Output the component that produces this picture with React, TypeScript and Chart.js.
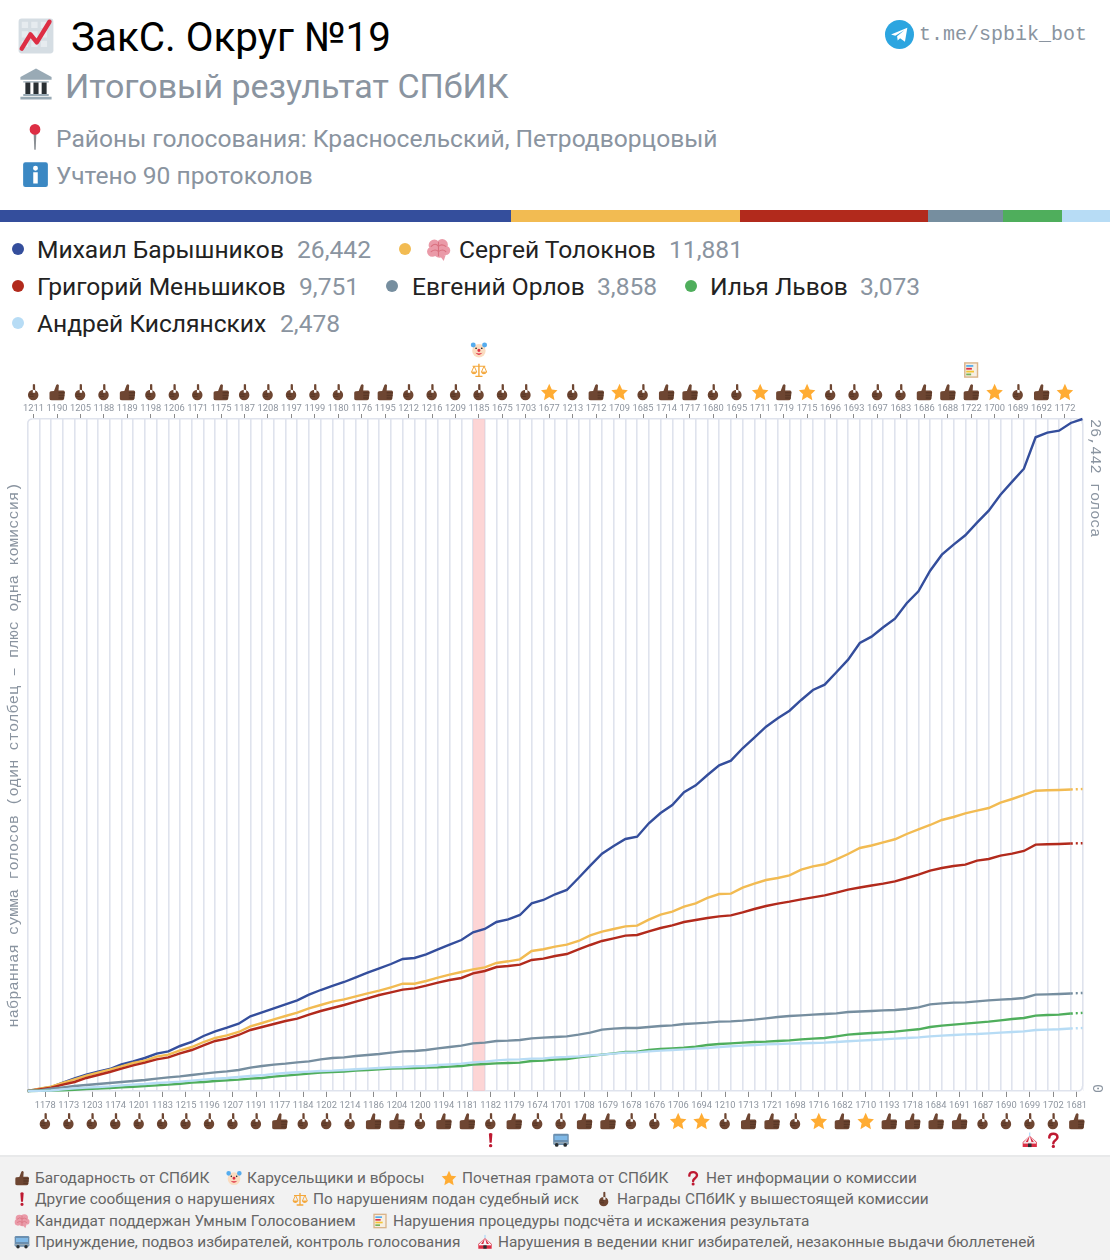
import React, { useEffect, useRef } from "react";
import { Chart, registerables } from "chart.js";

Chart.register(...registerables);

const topLabels = ["1211","1190","1205","1188","1189","1198","1206","1171","1175","1187","1208","1197","1199","1180","1176","1195","1212","1216","1209","1185","1675","1703","1677","1213","1712","1709","1685","1714","1717","1680","1695","1711","1719","1715","1696","1693","1697","1683","1686","1688","1722","1700","1689","1692","1172"];
const bottomLabels = ["1178","1173","1203","1174","1201","1183","1215","1196","1207","1191","1177","1184","1202","1214","1186","1204","1200","1194","1181","1182","1179","1674","1701","1708","1679","1678","1676","1706","1694","1210","1713","1721","1698","1716","1682","1710","1193","1718","1684","1691","1687","1690","1699","1702","1681"];
const topAwards = "p t p p t p p p t p p p p p t t p p p p p p s p t s p t t p p s t s p p p p t t t s p t s".split(" ");
const bottomAwards = "p p p p p p p p p p t p p p t t p t t p t p p t t p p s s p t t p s t s t t t t p p p p t".split(" ");
const topExtras: Record<string, string[]> = { "1185": ["scales", "clown"], "1722": ["abacus"] };
const bottomExtras: Record<string, string[]> = { "1182": ["exclaim"], "1701": ["bus"], "1699": ["tent"], "1702": ["question"] };
const flaggedCommission = "1185";

const baryshnikov = [0,79,157,327,500,641,759,866,1051,1169,1299,1468,1562,1771,1928,2164,2349,2491,2648,2939,3097,3254,3412,3569,3789,3974,4132,4289,4474,4655,4828,4997,5194,5234,5379,5576,5757,5942,6245,6375,6650,6756,6926,7386,7516,7740,7909,8382,8866,9338,9641,9916,10007,10534,10939,11254,11754,12029,12435,12816,12997,13485,13902,14335,14666,14965,15386,15779,15988,16476,16972,17629,17877,18247,18585,19191,19663,20474,21103,21497,21867,22363,22835,23464,23976,24487,25723,25904,25983,26286,26442];
const tolokonov = [0,92,170,315,460,603,722,840,971,1102,1194,1351,1430,1600,1731,1928,2086,2190,2322,2544,2676,2820,2951,3082,3254,3384,3515,3608,3726,3844,3948,4080,4223,4223,4329,4459,4578,4683,4787,4867,5037,5103,5181,5509,5576,5679,5757,5903,6125,6270,6375,6479,6507,6742,6938,7057,7254,7384,7595,7752,7765,8001,8157,8303,8382,8487,8710,8840,8921,9118,9326,9562,9660,9785,9905,10113,10297,10467,10664,10782,10927,11030,11136,11345,11490,11648,11817,11832,11844,11864,11881];
const menshikov = [0,65,130,249,354,512,630,748,879,1010,1115,1246,1325,1482,1613,1797,1968,2059,2204,2400,2518,2636,2755,2846,3003,3148,3266,3384,3515,3646,3778,3883,3988,4040,4145,4263,4368,4447,4630,4722,4879,4919,4971,5155,5207,5312,5391,5575,5745,5903,6008,6113,6139,6282,6414,6519,6650,6729,6808,6873,6912,7030,7162,7280,7372,7450,7542,7621,7700,7805,7923,8008,8086,8159,8251,8382,8513,8670,8775,8854,8906,9064,9129,9260,9339,9444,9693,9707,9719,9739,9751];
const orlov = [0,26,92,144,197,236,275,315,354,394,433,486,538,577,630,682,735,774,826,918,984,1036,1075,1128,1167,1246,1299,1325,1377,1417,1456,1508,1561,1574,1613,1679,1731,1784,1876,1902,1968,1981,2007,2072,2099,2125,2151,2217,2296,2414,2453,2479,2479,2518,2558,2584,2636,2662,2689,2728,2741,2768,2807,2859,2912,2951,2977,3004,3030,3056,3109,3128,3148,3174,3187,3227,3292,3410,3449,3476,3489,3528,3568,3594,3620,3660,3791,3804,3817,3838,3858];
const lvov = [0,10,13,26,52,79,92,118,144,170,197,223,249,288,328,354,394,420,446,486,512,564,603,643,682,722,748,761,800,826,853,879,892,905,918,931,958,984,1036,1062,1089,1102,1115,1181,1194,1233,1259,1325,1377,1430,1482,1535,1548,1613,1653,1679,1705,1745,1810,1849,1876,1902,1928,1941,1968,1994,2033,2059,2086,2151,2217,2251,2282,2308,2335,2387,2427,2518,2571,2610,2649,2689,2728,2780,2833,2873,2965,2991,3004,3048,3073];
const kislyanskikh = [0,5,20,66,105,131,157,184,223,249,275,315,341,367,407,446,486,512,551,590,617,669,708,735,761,787,800,826,853,879,905,931,944,971,984,1023,1049,1076,1128,1154,1207,1233,1246,1272,1285,1325,1338,1364,1404,1430,1469,1508,1521,1561,1587,1613,1639,1666,1692,1731,1758,1784,1810,1837,1850,1863,1876,1889,1902,1928,1955,1981,2007,2033,2059,2086,2112,2151,2177,2204,2230,2243,2269,2295,2322,2348,2400,2414,2427,2459,2478];

const candidates = [
  { name: "Михаил Барышников", total: 26442, color: "#344e9c", data: baryshnikov, dotted: false },
  { name: "Сергей Толокнов", total: 11881, color: "#f2bb52", data: tolokonov, dotted: true },
  { name: "Григорий Меньшиков", total: 9751, color: "#b22a1c", data: menshikov, dotted: true },
  { name: "Евгений Орлов", total: 3858, color: "#768e9f", data: orlov, dotted: true },
  { name: "Илья Львов", total: 3073, color: "#4fae5c", data: lvov, dotted: true },
  { name: "Андрей Кислянских", total: 2478, color: "#b7dcf5", data: kislyanskikh, dotted: true },
];
const drawOrder = [5, 4, 3, 2, 1, 0];

const fmt = (n: number) => n.toLocaleString("en-US");

type P = { d: string; fill?: string; stroke?: string; w?: number };
const circ = (x: number, y: number, r: number) => `M${x - r} ${y}a${r} ${r} 0 1 0 ${2 * r} 0a${r} ${r} 0 1 0 ${-2 * r} 0Z`;

const ICONS: Record<string, P[]> = {
  t: [
    { d: "M2 13Q2 11 4 11L8 10.5L11 2.5Q13 0.5 14.5 3L14 10H20.5Q22.5 10 22.5 12.5L21.5 21Q21 23 18.5 23H5Q2 23 2 21Z", fill: "#6e4632" },
    { d: "M14 12H22V14H14ZM14 15.5H21.8V17.5H14ZM14 19H21.2V21H14Z", fill: "#5a3827" },
  ],
  p: [
    { d: circ(11.5, 16, 7) + "M11 2Q12.5 0.5 14 2L14.2 13H11Z", fill: "#6e4632" },
    { d: "M6 14H12V15.5H6ZM6 17H12V18.5H6Z", fill: "#5a3827" },
  ],
  s: [{ d: "M12 1L15.4 8.5L23 9.5L17.4 14.9L19 23L12 18.8L5 23L6.6 14.9L1 9.5L8.6 8.5Z", fill: "#ffac33" }],
  clown: [
    { d: circ(12, 13, 9.5), fill: "#fbdcc0" },
    { d: circ(4, 5, 3.5) + circ(20, 5, 3.5), fill: "#55acee" },
    { d: circ(12, 12.5, 2.2), fill: "#dd2e44" },
    { d: "M7 16Q12 22 17 16Q12 18 7 16Z", fill: "#dd2e44" },
    { d: circ(8, 9.5, 1.2) + circ(16, 9.5, 1.2), fill: "#292f33" },
  ],
  scales: [
    { d: "M11 3H13V20H17V22H7V20H11ZM3 6H21V7.5H3Z", fill: "#f4a73a" },
    { d: "M5 7L1.5 15H8.5ZM19 7L15.5 15H22.5Z", stroke: "#f4a73a", w: 1.4 },
    { d: "M1 15H9Q8 18 5 18Q2 18 1 15ZM15 15H23Q22 18 19 18Q16 18 15 15Z", fill: "#f4a73a" },
  ],
  abacus: [
    { d: "M2 1H22V23H2Z", fill: "#d9b48a" },
    { d: "M4 3H20V21H4Z", fill: "#f6efe3" },
    { d: "M5 5H15V7.5H5Z", fill: "#55acee" },
    { d: "M5 9H13V11.5H5Z", fill: "#dd2e44" },
    { d: "M5 13H16V15.5H5Z", fill: "#f4c534" },
    { d: "M5 17H12V19.5H5Z", fill: "#78b159" },
  ],
  exclaim: [{ d: "M9.5 3Q12 1 14.5 3L13.5 16H10.5Z" + circ(12, 20, 2.4), fill: "#be1931" }],
  question: [
    { d: "M6.5 8.5C6.5 1.5 18 1.5 18 8C18 12.5 12.2 12 12.2 16.5", stroke: "#be1931", w: 3.6 },
    { d: circ(12.2, 21, 2.3), fill: "#be1931" },
  ],
  bus: [
    { d: "M1 5Q1 3 3 3H21Q23 3 23 5V17Q23 19 21 19H3Q1 19 1 17Z", fill: "#6b8faf" },
    { d: "M3 6H21V12H3Z", fill: "#7fb8e6" },
    { d: "M1 15H23V17H1Z", fill: "#99aab5" },
    { d: circ(6, 19, 2.6) + circ(18, 19, 2.6), fill: "#292f33" },
  ],
  tent: [
    { d: "M12 2V7", stroke: "#88c9f9", w: 1.2 },
    { d: "M12 6L22 15V22H2V15Z", fill: "#dd2e44" },
    { d: "M12 6L14.5 15H9.5ZM12 6L6 15H3.5ZM12 6L18 15H20.5Z", fill: "#f5f8fa" },
    { d: "M3 15H21V17H3Z", fill: "#f5f8fa" },
    { d: "M9.5 17H14.5V22H9.5Z", fill: "#292f33" },
  ],
  brain: [
    { d: circ(8, 8, 5.5) + circ(15.5, 7.5, 5.5) + circ(6, 14, 5) + circ(13, 14, 6) + circ(19, 13, 4.3), fill: "#ea9aa8" },
    { d: "M5 9Q9 5 12 9Q15 6 19 9M5 14Q9 11 12 14Q16 11 19 14M12 5V18", stroke: "#d9707f", w: 1.1 },
    { d: "M14 19L17 23L19 17Z", fill: "#ea9aa8" },
  ],
  chart: [
    { d: "M1 3Q1 1 3 1H21Q23 1 23 3V21Q23 23 21 23H3Q1 23 1 21Z", fill: "#d5dde3" },
    { d: "M3 3H7V7H3ZM9 3H13V7H9ZM15 3H19V7H15ZM3 9H7V13H3ZM9 9H13V13H9ZM15 9H19V13H15ZM3 15H7V19H3ZM9 15H13V19H9ZM15 15H19V19H15Z", fill: "#e6ebef" },
    { d: "M3 20L8.5 11L12.5 16L20.5 3", stroke: "#dd2e44", w: 2.8 },
  ],
  bank: [
    { d: "M12 1L23 7V9H1V7Z", fill: "#99aab5" },
    { d: "M3 10H21V11H3ZM3 19H21V20.5H3ZM1 21H23V23H1Z", fill: "#99aab5" },
    { d: "M4.5 11H8V19H4.5ZM10.2 11H13.8V19H10.2ZM16 11H19.5V19H16Z", fill: "#292f33" },
  ],
  pin: [
    { d: "M10.8 8H13.2L12.6 23H11.4Z", fill: "#8a8f94" },
    { d: circ(12, 5.5, 4.6), fill: "#dd2e44" },
  ],
  info: [
    { d: "M1 3Q1 1 3 1H21Q23 1 23 3V21Q23 23 21 23H3Q1 23 1 21Z", fill: "#3b88c3" },
    { d: "M10 10H14V20H10Z" + circ(12, 6.5, 2.2), fill: "#ffffff" },
  ],
  telegram: [
    { d: circ(12, 12, 12), fill: "#2ca5e0" },
    { d: "M5 12L18.5 6.5L16.5 18L12.5 15L10.5 17L10 13.5L16 8.5L8.5 13Z", fill: "#ffffff" },
  ],
};

function Icon({ kind, x, y, size }: { kind: string; x: number; y: number; size: number }) {
  return (
    <svg width={size} height={size} viewBox="0 0 24 24" style={{ position: "absolute", left: x - size / 2, top: y - size / 2 }}>
      {ICONS[kind].map((p, i) => (
        <path key={i} d={p.d} fill={p.fill || "none"} stroke={p.stroke} strokeWidth={p.w} strokeLinecap="round" strokeLinejoin="round" />
      ))}
    </svg>
  );
}

function paintIcon(ctx: CanvasRenderingContext2D, kind: string, x: number, y: number, size: number) {
  ctx.save();
  ctx.translate(x - size / 2, y - size / 2);
  ctx.scale(size / 24, size / 24);
  for (const p of ICONS[kind]) {
    const path = new Path2D(p.d);
    if (p.fill) {
      ctx.fillStyle = p.fill;
      ctx.fill(path);
    }
    if (p.stroke) {
      ctx.strokeStyle = p.stroke;
      ctx.lineWidth = p.w || 1;
      ctx.lineCap = "round";
      ctx.lineJoin = "round";
      ctx.stroke(path);
    }
  }
  ctx.restore();
}

const MONO = "'Liberation Mono', monospace";
const GREY = "#8a94a0";
const CANVAS_TOP = 340;

function T({ x, y, size, color, children, font, weight }: any) {
  return (
    <div style={{ position: "absolute", left: x, top: y, transform: "translateY(-50%)", fontSize: size, color, whiteSpace: "nowrap", fontFamily: font || "Roboto", fontWeight: weight || 400, lineHeight: 1 }}>
      {children}
    </div>
  );
}

const legendRows: [number, number, number, number][] = [
  [0, 18, 37, 250],
  [1, 405, 459, 250],
  [2, 18, 37, 287],
  [3, 392, 412, 287],
  [4, 691, 710, 287],
  [5, 18, 37, 324],
];
const valueX = [297, 669, 299, 597, 860, 280];

const footerItems: [string, number, string, number][] = [
  ["t", 22, "Багодарность от СПбИК", 1178],
  ["clown", 234, "Карусельщики и вбросы", 1178],
  ["s", 449, "Почетная грамота от СПбИК", 1178],
  ["question", 693, "Нет информации о комиссии", 1178],
  ["exclaim", 22, "Другие сообщения о нарушениях", 1199],
  ["scales", 300, "По нарушениям подан судебный иск", 1199],
  ["p", 604, "Награды СПбИК у вышестоящей комиссии", 1199],
  ["brain", 22, "Кандидат поддержан Умным Голосованием", 1221],
  ["abacus", 380, "Нарушения процедуры подсчёта и искажения результата", 1221],
  ["bus", 22, "Принуждение, подвоз избирателей, контроль голосования", 1242],
  ["tent", 485, "Нарушения в ведении книг избирателей, незаконные выдачи бюллетеней", 1242],
];

export default function App() {
  const ref = useRef<HTMLCanvasElement>(null);
  useEffect(() => {
    const tickFont = { family: "Roboto", size: 9.3 };
    const tickColor = "#8f96a0";
    const gridColor = "#dfe3ed";
    const bandPlugin = {
      id: "band",
      beforeDatasetsDraw(chart: any) {
        const { ctx, scales, chartArea } = chart;
        const idx = topLabels.indexOf(flaggedCommission) * 2;
        const a = scales.x.getPixelForValue(idx);
        const b = scales.x.getPixelForValue(idx + 1);
        ctx.save();
        ctx.fillStyle = "rgba(252,190,190,0.65)";
        ctx.fillRect(a, chartArea.top, b - a, chartArea.bottom - chartArea.top);
        // rounded corners of the plot frame
        const { left, right, top, bottom } = chartArea;
        const r = 5;
        ctx.strokeStyle = gridColor;
        ctx.lineWidth = 1.6;
        for (const [cx, cy, sx, sy] of [[left, top, 1, 1], [right, top, -1, 1], [left, bottom, 1, -1], [right, bottom, -1, -1]]) {
          ctx.fillStyle = "#fff";
          ctx.fillRect(Math.min(cx, cx + sx * r) - (sx > 0 ? 1 : 0), Math.min(cy, cy + sy * r) - (sy > 0 ? 1 : 0), r + 1, r + 1);
          ctx.beginPath();
          ctx.moveTo(cx + sx * r, cy);
          ctx.quadraticCurveTo(cx, cy, cx, cy + sy * r);
          ctx.stroke();
        }
        ctx.restore();
      },
    };
    const iconPlugin = {
      id: "icons",
      afterDraw(chart: any) {
        const { ctx, scales } = chart;
        topLabels.forEach((lab, k) => {
          const x = scales.x.getPixelForValue(2 * k + 0.5);
          paintIcon(ctx, topAwards[k], x, 392 - CANVAS_TOP, 18);
          (topExtras[lab] || []).forEach((kind, j) => {
            paintIcon(ctx, kind, x, 370 - j * 20 - CANVAS_TOP, 17);
          });
        });
        bottomLabels.forEach((lab, k) => {
          const x = scales.x.getPixelForValue(2 * k + 1.5);
          paintIcon(ctx, bottomAwards[k], x, 1121 - CANVAS_TOP, 18);
          (bottomExtras[lab] || []).forEach((kind) => {
            paintIcon(ctx, kind, x, 1140 - CANVAS_TOP, 17);
          });
        });
        ctx.save();
        ctx.font = "15px " + MONO;
        ctx.fillStyle = GREY;
        ctx.textAlign = "right";
        ctx.textBaseline = "middle";
        ctx.translate(1097, scales.y.getPixelForValue(0) + 2);
        ctx.rotate(Math.PI / 2);
        ctx.fillText("0", 0, 0);
        ctx.restore();
      },
    };
    const chart = new Chart(ref.current!, {
      type: "line",
      data: {
        datasets: drawOrder.map((c) => {
          const s = candidates[c];
          return {
            label: s.name,
            data: s.data.map((v, i) => ({ x: i, y: v })),
            borderColor: s.color,
            borderWidth: 2.4,
            pointRadius: 0,
            tension: 0,
            clip: 4,
            xAxisID: "x",
            yAxisID: "y",
            segment: s.dotted ? { borderDash: (ctx: any) => (ctx.p1DataIndex === s.data.length - 1 ? [2, 3] : undefined) } : undefined,
          } as any;
        }),
      },
      options: {
        animation: false,
        responsive: false,
        layout: { padding: 0 },
        plugins: { legend: { display: false }, tooltip: { enabled: false } },
        scales: {
          x: {
            type: "linear",
            position: "bottom",
            min: 0,
            max: 90,
            afterFit: (s: any) => { s.height = 0; },
            afterBuildTicks: (s: any) => {
              s.ticks = Array.from({ length: 91 }, (_, i) => ({ value: i }));
            },
            ticks: { display: false, autoSkip: false },
            grid: { color: gridColor, lineWidth: 1.6, drawTicks: false },
            border: { display: false },
          },
          xb: {
            type: "linear",
            position: "bottom",
            min: 0,
            max: 90,
            afterFit: (s: any) => { s.height = 64; },
            afterBuildTicks: (s: any) => {
              s.ticks = bottomLabels.map((_, k) => ({ value: 2 * k + 1.5 }));
            },
            ticks: {
              autoSkip: false, maxRotation: 0, minRotation: 0, padding: 3,
              color: tickColor, font: tickFont,
              callback: (v: any) => bottomLabels[Math.floor((v - 1.5) / 2)],
            },
            grid: { drawOnChartArea: false, tickLength: 6, tickColor: "#8a8a8a", tickWidth: 1 },
            border: { display: true, color: gridColor, width: 1.6 },
          },
          xt: {
            type: "linear",
            position: "top",
            min: 0,
            max: 90,
            afterFit: (s: any) => { s.height = 79; },
            afterBuildTicks: (s: any) => {
              s.ticks = topLabels.map((_, k) => ({ value: 2 * k + 0.5 }));
            },
            ticks: {
              autoSkip: false, maxRotation: 0, minRotation: 0, padding: 0,
              color: tickColor, font: tickFont,
              callback: (v: any) => topLabels[Math.floor((v - 0.5) / 2)],
            },
            grid: { drawOnChartArea: false, tickLength: 5, tickColor: "#8a8a8a", tickWidth: 1 },
            border: { display: true, color: gridColor, width: 1.6 },
          },
          y: {
            type: "linear",
            position: "left",
            min: 0,
            max: 26442,
            afterFit: (s: any) => { s.width = 27.7; },
            ticks: { display: false },
            grid: { display: false },
            border: { display: false },
            title: {
              display: true,
              text: "набранная сумма голосов (один столбец – плюс одна комиссия)",
              color: GREY,
              font: { family: "Liberation Mono", size: 15.4 },
              padding: { top: 4.6, bottom: 0 },
            },
          },
          yr: {
            type: "linear",
            position: "right",
            min: 0,
            max: 26442,
            afterFit: (s: any) => { s.width = 27.5; },
            afterBuildTicks: (s: any) => { s.ticks = [{ value: 26442 }]; },
            ticks: {
              autoSkip: false, minRotation: -90, maxRotation: -90, padding: 13,
              color: GREY, font: { family: "Liberation Mono", size: 15.2 },
              callback: (v: any) => fmt(v) + " голоса",
            },
            grid: { display: false, drawTicks: false },
            border: { display: false },
          },
        },
      } as any,
      plugins: [bandPlugin, iconPlugin],
    });
    return () => chart.destroy();
  }, []);

  const grand = candidates.reduce((a, c) => a + c.total, 0);

  return (
    <div style={{ position: "relative", width: 1110, height: 1260, overflow: "hidden", background: "#fff", fontFamily: "Roboto" }}>
      <style>{"body{margin:0;background:#fff}"}</style>

      <Icon kind="chart" x={36} y={36} size={38} />
      <T x={71} y={38} size={40.4} color="#000">ЗакС. Округ №19</T>
      <Icon kind="bank" x={36} y={84} size={34} />
      <T x={65} y={86} size={34} color={GREY}>Итоговый результат СПбИК</T>
      <Icon kind="pin" x={35} y={137} size={28} />
      <T x={56} y={139} size={24.6} color={GREY}>Районы голосования: Красносельский, Петродворцовый</T>
      <Icon kind="info" x={35} y={174} size={27} />
      <T x={56} y={176} size={24.6} color={GREY}>Учтено 90 протоколов</T>
      <Icon kind="telegram" x={899} y={34} size={29} />
      <T x={919} y={35} size={20} color={GREY} font={MONO}>t.me/spbik_bot</T>

      <div style={{ position: "absolute", left: 0, top: 210, width: 1110, height: 12, display: "flex" }}>
        {candidates.map((c) => (
          <div key={c.name} style={{ width: (c.total / grand) * 1110, background: c.color }} />
        ))}
      </div>

      {legendRows.map(([c, dotX, nameX, y]) => (
        <React.Fragment key={c}>
          <div style={{ position: "absolute", left: dotX - 6, top: y - 7, width: 12, height: 12, borderRadius: 6, background: candidates[c].color }} />
          <T x={nameX} y={y} size={24.6} color="#222">{candidates[c].name}</T>
          <T x={valueX[c]} y={y} size={24.6} color={GREY}>{fmt(candidates[c].total)}</T>
        </React.Fragment>
      ))}
      <Icon kind="brain" x={438} y={249} size={25} />

      <canvas ref={ref} width={1110} height={815} style={{ position: "absolute", left: 0, top: CANVAS_TOP, display: "block" }} />

      <div style={{ position: "absolute", left: 0, top: 1155, width: 1110, height: 105, background: "#f2f2f2", borderTop: "2px solid #e8e9ea", boxSizing: "border-box" }} />
      {footerItems.map(([kind, x, text, y]) => (
        <React.Fragment key={text}>
          <Icon kind={kind} x={x} y={y} size={16} />
          <T x={x + 13} y={y + 1} size={15.4} color="#666">{text}</T>
        </React.Fragment>
      ))}
    </div>
  );
}
